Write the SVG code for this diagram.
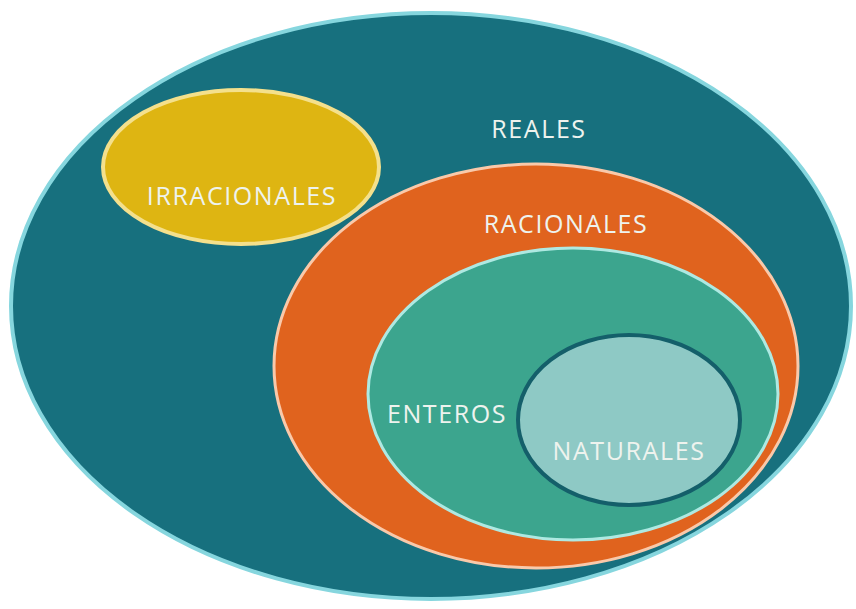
<svg xmlns="http://www.w3.org/2000/svg" width="856" height="609" viewBox="0 0 856 609">
<style>
text{font-family:"Open Sans","Liberation Sans",sans-serif;font-size:25px;fill:#eef3ee;text-anchor:middle;letter-spacing:1.6px}
</style>
<rect width="856" height="609" fill="#ffffff"/>
<g id="reales">
<ellipse cx="431" cy="306" rx="420" ry="293" fill="#17707e" stroke="#86d6de" stroke-width="4"/>
<text x="539" y="138">REALES</text>
</g>
<g id="irracionales">
<ellipse cx="241" cy="167" rx="138" ry="77" fill="#deb512" stroke="#f4e08c" stroke-width="4"/>
<text x="242" y="205">IRRACIONALES</text>
</g>
<g id="racionales">
<ellipse cx="536" cy="366" rx="262" ry="202" fill="#e0631e" stroke="#f9c9aa" stroke-width="3"/>
<text x="566" y="233">RACIONALES</text>
</g>
<g id="enteros">
<ellipse cx="573" cy="394" rx="205" ry="146" fill="#3ca58e" stroke="#aee9e2" stroke-width="3"/>
<text x="447" y="423">ENTEROS</text>
</g>
<g id="naturales">
<ellipse cx="629" cy="420" rx="111" ry="85" fill="#8ec9c5" stroke="#145f6a" stroke-width="4"/>
<text x="629" y="460">NATURALES</text>
</g>
<g id="connectors"/>
</svg>
